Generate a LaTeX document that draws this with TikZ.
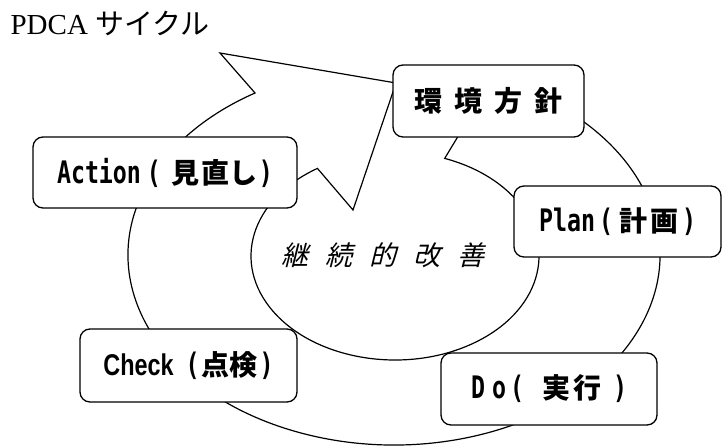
\documentclass[tikz,border=0pt]{standalone}
\usepackage{fontspec}
\setmainfont{Liberation Serif}
\newfontfamily\jpgothic{Noto Sans CJK JP}
\newfontfamily\jpslant[FakeSlant=0.25]{Noto Sans CJK JP}
\newfontfamily\halfmono[FakeStretch=0.75]{DejaVu Sans Mono}
\newfontfamily\halfsans[FakeStretch=0.78]{Liberation Sans}
\newcommand\halfw[1]{{\halfmono\fontsize{31}{34}\selectfont #1}}
\begin{document}
\begin{tikzpicture}[x=1pt, y=-1pt, line width=1.2pt,
  box/.style={draw, fill=white, rounded corners=10pt, line width=1.3pt, inner sep=0pt,
    font=\jpgothic\bfseries\fontsize{28}{32}\selectfont}]
\useasboundingbox (0,0) rectangle (722,446);

% ring arrow
\coordinate (O) at (394,255);
\coordinate (I) at (395,256);
\coordinate (tip) at (396,83);
\coordinate (outerbarb) at (220,53);
\coordinate (innerbarb) at (353,210);

\draw [line join=miter] ([shift={(O)}]-68.2:266 and 190)
  arc [start angle=-68.2, end angle=238.5, x radius=266, y radius=190]
  -- (outerbarb) -- (tip) -- (innerbarb)
  -- ([shift={(I)}]237.4:144 and 104)
  arc [start angle=237.4, end angle=-69.8, x radius=144, y radius=104]
  -- cycle;

\node [font=\jpslant\fontsize{27}{32}\selectfont] (goal) at (383,255)
  {継\hspace{17pt}続\hspace{17pt}的\hspace{17pt}改\hspace{17pt}善};

% boxes
\node [box, minimum width=191pt, minimum height=72pt] (policy) at (488.5,101)
  {環\hspace{12pt}境\hspace{12pt}方\hspace{12pt}針};
\node [box, minimum width=207pt, minimum height=71pt] (plan) at (617.5,221.5)
  {\halfw{Plan\hspace{4pt}(}\hspace{6pt}計\hspace{4pt}画\hspace{3pt}\halfw{)}};
\node [box, minimum width=216pt, minimum height=72pt] (do) at (549,389)
  {\halfw{D\hspace{7pt}o\hspace{4pt}(}\hspace{18pt}実\hspace{3pt}行\hspace{12pt}\halfw{)}\hspace{10pt}};
\node [box, minimum width=217pt, minimum height=73pt] (check) at (188.5,365.5)
  {{\halfsans\fontsize{30}{34}\selectfont Check}\hspace{12pt}\halfw{(}\hspace{2pt}点検\hspace{2pt}\halfw{)}};
\node [box, minimum width=264pt, minimum height=71pt] (action) at (165,172.5)
  {\halfw{Action\hspace{6pt}(}\hspace{11pt}見\hspace{2pt}直し\hspace{1pt}\halfw{)}};

\node [anchor=base west, inner sep=0pt, font=\fontsize{29}{33}\selectfont] (title) at (10,35)
  {PDCA {\jpgothic サイクル}};

\end{tikzpicture}
\end{document}
